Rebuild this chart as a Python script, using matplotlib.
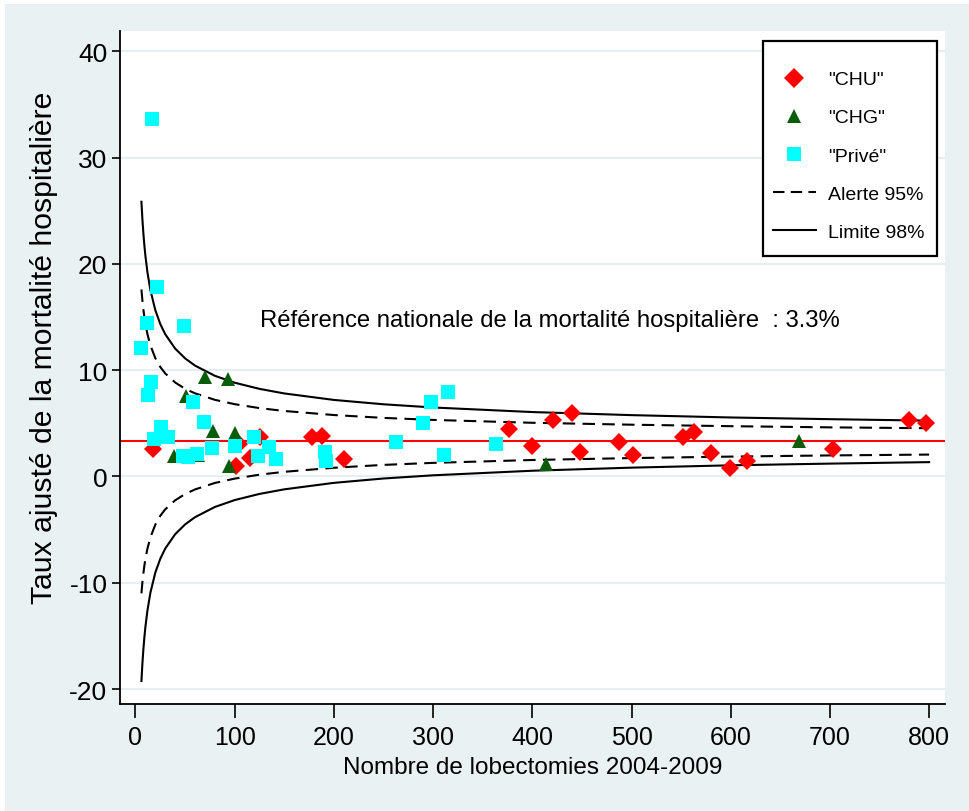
import matplotlib
matplotlib.use("Agg")
import matplotlib.pyplot as plt
from matplotlib.patches import Rectangle
from matplotlib.lines import Line2D
import matplotlib.font_manager as fm

# ---------------- data ----------------
chu_n = [18, 104, 101, 115, 126, 178, 188, 210, 377, 400, 421, 440, 448, 487, 502,
         552, 563, 580, 599, 616, 703, 780, 797]
chu_rate = [2.6, 3.1, 1.0, 1.7, 3.7, 3.7, 3.8, 1.6, 4.5, 2.9, 5.3, 6.0, 2.3, 3.2, 2.0,
            3.7, 4.2, 2.2, 0.8, 1.5, 2.6, 5.3, 5.0]

chg_n = [39, 51, 63, 70, 78, 93, 94, 100, 414, 669]
chg_rate = [1.9, 7.6, 2.0, 9.4, 4.3, 9.2, 1.0, 4.1, 1.2, 3.3]

prive_n = [6, 12, 13, 16, 17, 19, 22, 26, 33, 48, 49, 53, 58, 62, 69, 77, 100,
           119, 124, 135, 142, 191, 192, 263, 290, 298, 311, 315, 363]
prive_rate = [12.1, 14.4, 7.7, 8.9, 33.6, 3.5, 17.8, 4.7, 3.7, 1.9, 14.2, 1.8, 7.0,
              2.1, 5.1, 2.7, 2.9, 3.7, 1.9, 2.8, 1.6, 2.3, 1.5, 3.2, 5.0, 7.0, 2.0,
              7.9, 3.1]

reference_rate = 3.3

# funnel limits
limit_n = [6, 7, 8, 9, 10, 12, 15, 20, 25, 30, 40, 50, 60, 80, 100, 125, 150,
           200, 250, 300, 400, 500, 600, 700, 800]
alert_upper = [17.59, 16.53, 15.68, 14.97, 14.37, 13.41, 12.34, 11.13, 10.30, 9.69,
               8.84, 8.25, 7.82, 7.21, 6.80, 6.43, 6.16, 5.78, 5.51, 5.32, 5.05,
               4.87, 4.73, 4.62, 4.54]
alert_lower = [-10.99, -9.93, -9.08, -8.37, -7.77, -6.81, -5.74, -4.53, -3.70, -3.09,
               -2.24, -1.65, -1.22, -0.61, -0.20, 0.17, 0.44, 0.82, 1.09, 1.28, 1.55,
               1.73, 1.87, 1.98, 2.06]
limit_upper = [25.84, 24.16, 22.82, 21.70, 20.76, 19.24, 17.55, 15.64, 14.34, 13.38,
               12.03, 11.11, 10.43, 9.47, 8.82, 8.24, 7.81, 7.20, 6.79, 6.49, 6.06,
               5.77, 5.55, 5.39, 5.25]
limit_lower = [-19.24, -17.56, -16.22, -15.10, -14.16, -12.64, -10.95, -9.04, -7.74,
               -6.78, -5.43, -4.51, -3.83, -2.87, -2.22, -1.64, -1.21, -0.60, -0.19,
               0.11, 0.54, 0.83, 1.05, 1.21, 1.35]

x_ticks = [0, 100, 200, 300, 400, 500, 600, 700, 800]
y_ticks = [-20, -10, 0, 10, 20, 30, 40]

# ---------------- style ----------------
installed = {f.name for f in fm.fontManager.ttflist}
base_font = "Liberation Sans" if "Liberation Sans" in installed else "DejaVu Sans"
narrow_font = "Liberation Sans Narrow" if "Liberation Sans Narrow" in installed else base_font
plt.rcParams["font.family"] = [base_font, "DejaVu Sans"]
NARROW = [narrow_font, "DejaVu Sans"]

BG = "#eaf1f3"
RED = "#ff0000"
GREEN = "#0a5c0a"
CYAN = "#00ffff"

W, H = 970, 812
fig = plt.figure(figsize=(W / 100, H / 100), dpi=100, facecolor="white")
fig.patches.append(Rectangle((5 / W, 0), 1 - 5 / W, 1 - 5 / H, transform=fig.transFigure,
                             facecolor=BG, edgecolor="none", zorder=-10))

ax_l, ax_r, ax_t, ax_b = 120, 945, 32, 705
ax = fig.add_axes([ax_l / W, 1 - ax_b / H, (ax_r - ax_l) / W, (ax_b - ax_t) / H])
ax.set_facecolor("white")

ax.set_xlim(-15.6, 816)
ax.set_ylim(-21.4, 41.9)

for s in ["top", "right"]:
    ax.spines[s].set_visible(False)
for s in ["left", "bottom"]:
    ax.spines[s].set_linewidth(1.3)
    ax.spines[s].set_color("black")

ax.set_yticks(y_ticks)
ax.set_xticks(x_ticks)
ax.set_yticklabels([str(v) for v in y_ticks], fontsize=19, family=NARROW)
ax.set_xticklabels([str(v) for v in x_ticks], fontsize=18, family=NARROW)
ax.tick_params(axis="y", length=6, width=1.2, pad=3)
ax.tick_params(axis="x", length=10, width=1.2, pad=5)
ax.grid(axis="y", color="#e6eef1", linewidth=1.5, zorder=0)
ax.set_axisbelow(True)

ax.set_ylabel("Taux ajusté de la mortalité hospitalière", fontsize=21.7)
ax.yaxis.set_label_coords((58 - ax_l) / (ax_r - ax_l), (ax_b - 348) / (ax_b - ax_t))
ax.set_xlabel("Nombre de lobectomies 2004-2009", fontsize=17.5, family=NARROW)
ax.xaxis.set_label_coords(0.5, (ax_b - 757) / (ax_b - ax_t))

# reference line & funnel limits
ax.axhline(reference_rate, color=RED, linewidth=1.5, zorder=2)
dash = (6, 3.5)
ax.plot(limit_n, alert_upper, color="black", linewidth=1.5, linestyle=(0, dash), zorder=2)
ax.plot(limit_n, alert_lower, color="black", linewidth=1.5, linestyle=(0, dash), zorder=2)
ax.plot(limit_n, limit_upper, color="black", linewidth=1.5, zorder=2)
ax.plot(limit_n, limit_lower, color="black", linewidth=1.5, zorder=2)

# markers
ax.plot(chu_n, chu_rate, linestyle="none", marker="D", markersize=9.5,
        color=RED, markeredgewidth=0, zorder=3)
ax.plot(chg_n, chg_rate, linestyle="none", marker="^", markersize=10.5,
        color=GREEN, markeredgewidth=0, zorder=4)
ax.plot(prive_n, prive_rate, linestyle="none", marker="s", markersize=10.5,
        color=CYAN, markeredgewidth=0, zorder=5)

ax.text(418, 14.7, "Référence nationale de la mortalité hospitalière  : 3.3%",
        fontsize=17.2, ha="center", va="center", zorder=6)

# legend box (drawn in pixel positions converted to axes fraction)
def ax_frac(px, py):
    return ((px - ax_l) / (ax_r - ax_l), (ax_b - py) / (ax_b - ax_t))

lx0, ly0 = ax_frac(763, 257)
lx1, ly1 = ax_frac(937, 42)
ax.add_patch(Rectangle((lx0, ly0), lx1 - lx0, ly1 - ly0, transform=ax.transAxes,
                       facecolor="white", edgecolor="black", linewidth=1.6, zorder=7,
                       clip_on=False))
handles = [
    Line2D([], [], linestyle="none", marker="D", markersize=10.5, color=RED, markeredgewidth=0),
    Line2D([], [], linestyle="none", marker="^", markersize=10.5, color=GREEN, markeredgewidth=0),
    Line2D([], [], linestyle="none", marker="s", markersize=10.5, color=CYAN, markeredgewidth=0),
    Line2D([], [], color="black", linewidth=1.5, linestyle=(0, (5.5, 3))),
    Line2D([], [], color="black", linewidth=1.5),
]
labels = ['"CHU"', '"CHG"', '"Privé"', "Alerte 95%", "Limite 98%"]
ax_lx, ax_ly = ax_frac(767, 66)
leg = ax.legend(handles, labels, loc="upper left", bbox_to_anchor=(ax_lx, ax_ly),
                frameon=False, fontsize=14, handlelength=2.2, handletextpad=0.65,
                labelspacing=1.05, borderpad=0.3, borderaxespad=0)
leg.set_zorder(8)

fig.savefig("out.png", dpi=100, facecolor=fig.get_facecolor())
